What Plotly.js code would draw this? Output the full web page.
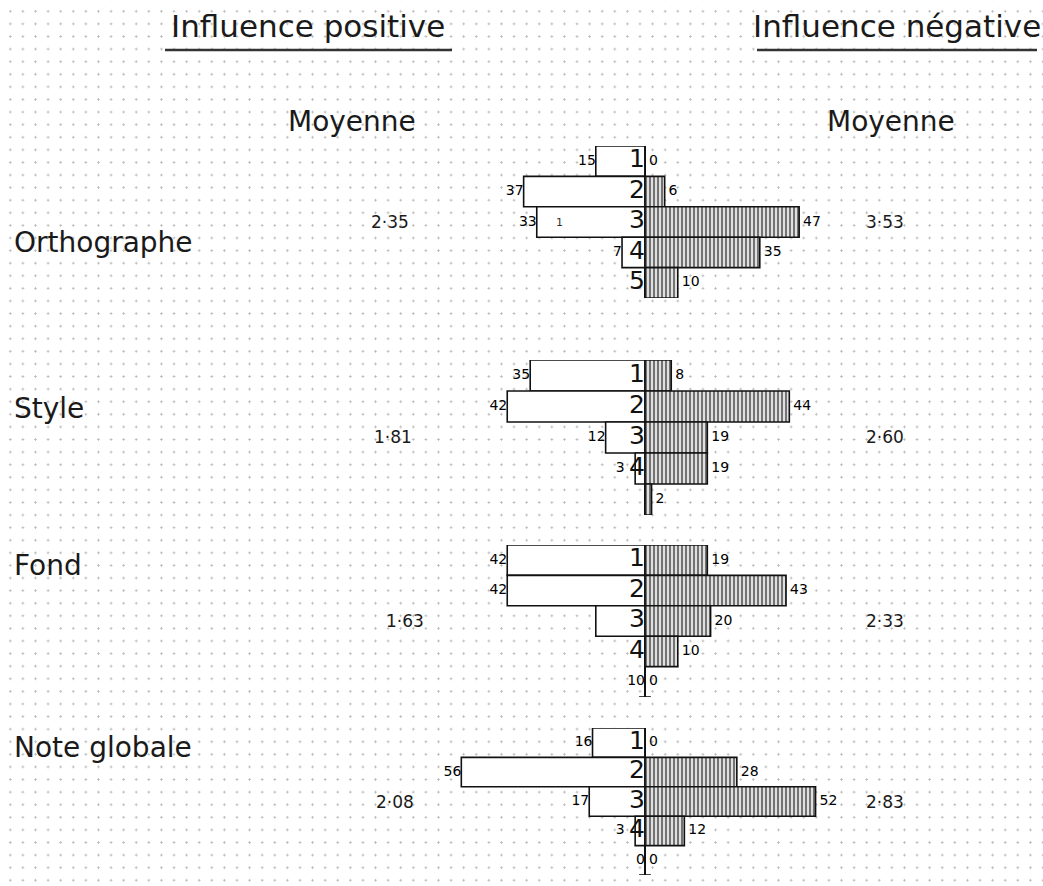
<!DOCTYPE html>
<html>
<head>
<meta charset="utf-8">
<script src="https://cdn.plot.ly/plotly-3.0.1.min.js"></script>
<style>
  html, body { margin: 0; padding: 0; background: #ffffff; }
  body {
    background-image: radial-gradient(circle, #b8b8b8 0.9px, rgba(255,255,255,0) 1.3px);
    background-size: 12.6px 12.6px;
    background-position: 4px 5px;
  }
  #chart { width: 1043px; height: 886px; }
</style>
</head>
<body>
<div id="chart"></div>
<script>
// ---------- data ----------
const groups = ['Orthographe', 'Style', 'Fond', 'Note globale'];
const ranks = [1, 2, 3, 4, 5];

const posOrthographe = [15, 37, 33, 7, 0];
const negOrthographe = [0, 6, 47, 35, 10];
const posStyle = [35, 42, 12, 3, 0];
const negStyle = [8, 44, 19, 19, 2];
const posFond = [42, 42, 15, 0, 0];
const negFond = [19, 43, 20, 10, 0];
const posNote = [16, 56, 17, 3, 0];
const negNote = [0, 28, 52, 12, 0];

const posLabelsOrthographe = ['15', '37', '33', '7', ''];
const negLabelsOrthographe = ['0', '6', '47', '35', '10'];
const posLabelsStyle = ['35', '42', '12', '3', ''];
const negLabelsStyle = ['8', '44', '19', '19', '2'];
const posLabelsFond = ['42', '42', '', '', '10'];
const negLabelsFond = ['19', '43', '20', '10', '0'];
const posLabelsNote = ['16', '56', '17', '3', '0'];
const negLabelsNote = ['0', '28', '52', '12', '0'];

const rankLabelsOrthographe = ['1', '2', '3', '4', '5'];
const rankLabelsStyle = ['1', '2', '3', '4', ''];
const rankLabelsFond = ['1', '2', '3', '4', ''];
const rankLabelsNote = ['1', '2', '3', '4', ''];

const meanPositive = ['2·35', '1·81', '1·63', '2·08'];
const meanNegative = ['3·53', '2·60', '2·33', '2·83'];

// ---------- build ----------
const series = [
  {pos: posOrthographe, neg: negOrthographe, pl: posLabelsOrthographe, nl: negLabelsOrthographe, rl: rankLabelsOrthographe},
  {pos: posStyle, neg: negStyle, pl: posLabelsStyle, nl: negLabelsStyle, rl: rankLabelsStyle},
  {pos: posFond, neg: negFond, pl: posLabelsFond, nl: negLabelsFond, rl: rankLabelsFond},
  {pos: posNote, neg: negNote, pl: posLabelsNote, nl: negLabelsNote, rl: rankLabelsNote}
];

const H = 886, W = 1043;
const groupPx = [[146, 298], [360, 515], [545, 697], [728, 875]];
const namePos = [3.69, 2.05, 1.16, 1.18];
const meanLeftX = [390, 393, 405, 395];
const meanRightX = [885, 885, 885, 885];
const axisFoot = [false, false, true, true];

const FONT = '"DejaVu Sans", sans-serif';
const traces = [];
const layout = {
  width: W, height: H,
  margin: {l: 0, r: 0, t: 0, b: 0},
  paper_bgcolor: 'rgba(0,0,0,0)',
  plot_bgcolor: 'rgba(0,0,0,0)',
  showlegend: false,
  barmode: 'overlay',
  bargap: 0,
  font: {family: FONT, color: '#1a1a1a'},
  annotations: [],
  shapes: []
};

const pxPerUnit = 3.28;
const centerPx = 645;
const xRange = [-centerPx / pxPerUnit, (W - centerPx) / pxPerUnit];
const rankDigitUnits = 6.2;  // room kept for the rank digit left of the axis
const labelGapUnits = 1.2;

series.forEach((s, i) => {
  const n = i + 1;
  const xa = n === 1 ? 'x' : 'x' + n;
  const ya = n === 1 ? 'y' : 'y' + n;
  const xKey = n === 1 ? 'xaxis' : 'xaxis' + n;
  const yKey = n === 1 ? 'yaxis' : 'yaxis' + n;
  const [top, bot] = groupPx[i];
  layout[yKey] = {
    domain: [1 - bot / H, 1 - top / H],
    range: [5.5, 0.5],
    anchor: xa,
    visible: false,
    fixedrange: true
  };
  layout[xKey] = {
    range: xRange,
    anchor: ya,
    showgrid: false,
    showticklabels: false,
    ticks: '',
    showline: false,
    zeroline: true,
    zerolinecolor: '#111',
    zerolinewidth: 1.6,
    fixedrange: true
  };
  if (n > 1) layout[xKey].matches = 'x';

  traces.push({
    type: 'bar', orientation: 'h', xaxis: xa, yaxis: ya,
    y: ranks, x: s.pos.map(v => -v), width: 1,
    marker: {color: '#ffffff', line: {color: '#111', width: 1.6}},
    hoverinfo: 'skip'
  });
  traces.push({
    type: 'bar', orientation: 'h', xaxis: xa, yaxis: ya,
    y: ranks, x: s.neg, width: 1,
    marker: {
      color: '#e0e0e0',
      line: {color: '#111', width: 1.6},
      pattern: {shape: '|', fgcolor: '#444', bgcolor: '#e0e0e0', size: 4, solidity: 0.35}
    },
    hoverinfo: 'skip'
  });
  traces.push({
    type: 'scatter', mode: 'text', xaxis: xa, yaxis: ya,
    y: ranks,
    x: s.pos.map((v, k) => -Math.max(v, s.rl[k] ? rankDigitUnits : 0)),
    text: s.pl,
    textposition: 'middle left',
    textfont: {size: 14, color: '#000', family: FONT},
    hoverinfo: 'skip', cliponaxis: false
  });
  traces.push({
    type: 'scatter', mode: 'text', xaxis: xa, yaxis: ya,
    y: ranks, x: s.neg.map(v => v + labelGapUnits), text: s.nl,
    textposition: 'middle right',
    textfont: {size: 14, color: '#000', family: FONT},
    hoverinfo: 'skip', cliponaxis: false
  });
  traces.push({
    type: 'scatter', mode: 'text', xaxis: xa, yaxis: ya,
    y: ranks, x: ranks.map(() => 0), text: s.rl,
    textposition: 'middle left',
    textfont: {size: 25, color: '#111', family: FONT},
    hoverinfo: 'skip', cliponaxis: false
  });

  if (axisFoot[i]) {
    layout.shapes.push({
      type: 'line', xref: xa, yref: ya, x0: -1.8, x1: 1.8, y0: 5.5, y1: 5.5,
      line: {color: '#111', width: 1.6}
    });
  }

  layout.annotations.push({
    text: groups[i], xref: 'paper', yref: ya,
    x: 12 / W, y: namePos[i], xanchor: 'left', yanchor: 'middle',
    showarrow: false, font: {size: 28, family: FONT, color: '#1a1a1a'}
  });
  layout.annotations.push({
    text: meanPositive[i], xref: 'paper', yref: ya,
    x: meanLeftX[i] / W, y: 3, xanchor: 'center', yanchor: 'middle',
    showarrow: false, font: {size: 17, family: FONT, color: '#1a1a1a'}
  });
  layout.annotations.push({
    text: meanNegative[i], xref: 'paper', yref: ya,
    x: meanRightX[i] / W, y: 3, xanchor: 'center', yanchor: 'middle',
    showarrow: false, font: {size: 17, family: FONT, color: '#1a1a1a'}
  });
});

// stray mark inside the Orthographe row 3 box
layout.annotations.push({
  text: '1', xref: 'x', yref: 'y', x: -26, y: 3, xanchor: 'center', yanchor: 'middle',
  showarrow: false, font: {size: 11, family: FONT, color: '#333'}
});

const headers = [
  {text: 'Influence positive', x: 308},
  {text: 'Influence négative', x: 897}
];
headers.forEach(h => {
  layout.annotations.push({
    text: h.text, xref: 'paper', yref: 'paper',
    x: h.x / W, y: 1 - 26 / H, xanchor: 'center', yanchor: 'middle',
    showarrow: false, font: {size: 31, family: FONT, color: '#1a1a1a'}
  });
});
layout.shapes.push(
  {type: 'line', xref: 'paper', yref: 'paper', x0: 165 / W, x1: 452 / W, y0: 1 - 50 / H, y1: 1 - 50 / H, line: {color: '#333', width: 2.5}},
  {type: 'line', xref: 'paper', yref: 'paper', x0: 757 / W, x1: 1037 / W, y0: 1 - 50 / H, y1: 1 - 50 / H, line: {color: '#333', width: 2.5}}
);
[352, 891].forEach(x => {
  layout.annotations.push({
    text: 'Moyenne', xref: 'paper', yref: 'paper',
    x: x / W, y: 1 - 122 / H, xanchor: 'center', yanchor: 'middle',
    showarrow: false, font: {size: 28, family: FONT, color: '#1a1a1a'}
  });
});

Plotly.newPlot('chart', traces, layout, {displayModeBar: false, staticPlot: true});
</script>
</body>
</html>
